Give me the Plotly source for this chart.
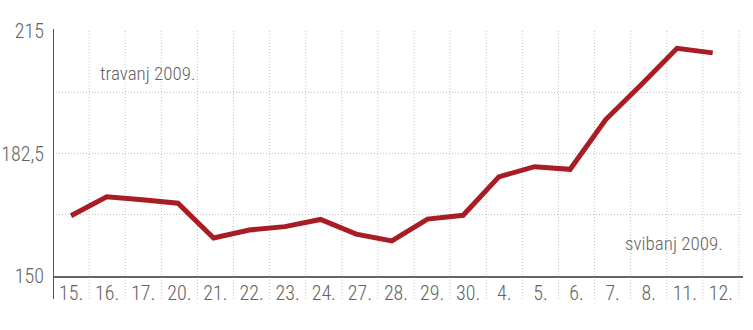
import plotly.graph_objects as go

dates = ["15.", "16.", "17.", "20.", "21.", "22.", "23.", "24.", "27.", "28.",
         "29.", "30.", "4.", "5.", "6.", "7.", "8.", "11.", "12."]
values = [166.0, 171.0, 170.2, 169.3, 160.1, 162.2, 163.1, 165.0, 161.1, 159.3,
          165.1, 166.1, 176.3, 179.0, 178.3, 191.5, 200.8, 210.4, 209.2]
ytick_vals = [150, 166.25, 182.5, 198.75, 215]
ytick_text = ["150", "", "182,5", "", "215"]
label_april = "travanj 2009."
label_may = "svibanj 2009."

FONT = "Roboto Condensed, DejaVu Sans Condensed, sans-serif"
GRAY = "#636363"
GRID = "#c2c2c2"
RED = "#a81c24"

n = len(dates)
fig = go.Figure()
# invisible trace to set up category axis
fig.add_trace(go.Scatter(x=dates, y=[None]*n, mode="lines", showlegend=False,
                         hoverinfo="skip", xaxis="x", yaxis="y"))
fig.add_trace(go.Scatter(
    x=list(range(n)), y=values, mode="lines",
    line=dict(color=RED, width=5), xaxis="x2", yaxis="y",
    hoverinfo="skip", showlegend=False))

shapes = []
for i in range(n):
    shapes.append(dict(type="line", xref="x", yref="paper", x0=i + 0.5, x1=i + 0.5,
                       y0=-0.094, y1=1.008, line=dict(color=GRID, width=1, dash="1px,2px"),
                       layer="below"))
shapes.append(dict(type="line", xref="x", yref="paper", x0=-0.5, x1=-0.5,
                   y0=-0.094, y1=1.008, line=dict(color="#555555", width=2)))

tf = dict(size=20, color=GRAY, family=FONT, weight=300)
af = dict(size=19, color=GRAY, family=FONT, weight=300)

fig.update_layout(
    width=753, height=330,
    margin=dict(l=53, r=10, t=31, b=54),
    paper_bgcolor="white", plot_bgcolor="white",
    font=dict(family=FONT, color=GRAY, size=20, weight=300),
    shapes=shapes,
    xaxis=dict(type="category", categoryorder="array", categoryarray=dates,
               range=[-0.5, n - 0.5 + 4 / 36.1], showgrid=False, zeroline=False,
               showline=True, linecolor="#666666", linewidth=2, automargin=False,
               ticks="", ticklabelstandoff=-2,
               tickfont=tf, fixedrange=True),
    xaxis2=dict(overlaying="x", range=[-0.505, 18.85], visible=False, fixedrange=True),
    yaxis=dict(range=[150, 215], tickmode="array", tickvals=ytick_vals, ticktext=ytick_text,
               showgrid=True, gridcolor=GRID, griddash="1px,2px", gridwidth=1, automargin=False,
               zeroline=False, showline=False, ticks="", ticklabelstandoff=8,
               tickfont=tf, fixedrange=True),
    annotations=[
        dict(text=label_april, xref="x", yref="y", x=0.75, y=203.8, xanchor="left",
             yanchor="middle", showarrow=False, font=af),
        dict(text=label_may, xref="x", yref="y", x=18.1, y=158.7, xanchor="right",
             yanchor="middle", showarrow=False, font=af),
    ],
)

fig.write_html("out.html")
